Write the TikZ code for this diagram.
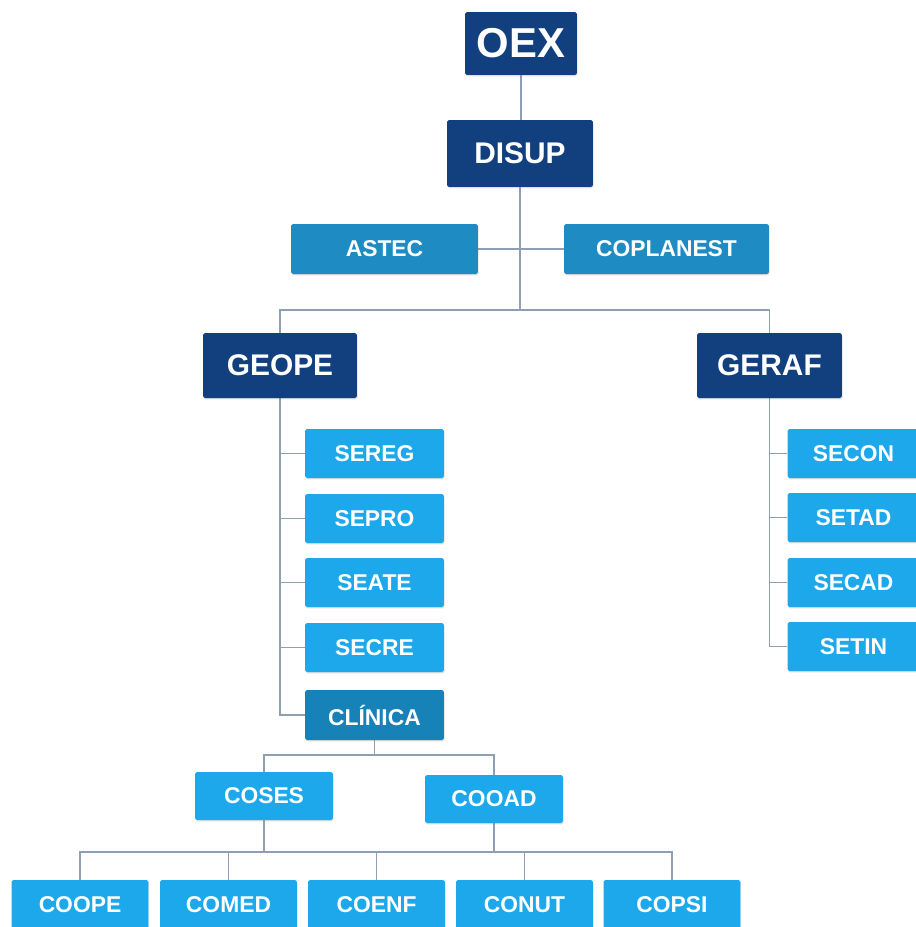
\documentclass[tikz,border=0pt]{standalone}
\usepackage{fontspec}
\setmainfont{Liberation Sans}
\usetikzlibrary{backgrounds,shadows}
\definecolor{navy}{HTML}{123F7E}
\definecolor{midblue}{HTML}{1E8CC2}
\definecolor{clinblue}{HTML}{1782B7}
\definecolor{skyblue}{HTML}{1CA8EA}
\definecolor{linec}{HTML}{8E9FB4}
\tikzset{
  box/.style={rectangle, rounded corners=1pt, text=white, inner sep=0pt, font=\bfseries,
    drop shadow={shadow xshift=0.4pt, shadow yshift=-0.8pt, opacity=0.25}},
  topbox/.style={box, fill=navy, minimum width=22.4mm, minimum height=12.6mm, font=\fontsize{23.8}{26}\selectfont\bfseries},
  mgrbox/.style={box, fill=navy, minimum height=13mm, font=\fontsize{17}{19}\selectfont\bfseries},
  advbox/.style={box, fill=midblue, minimum height=10mm, font=\fontsize{13}{15}\selectfont\bfseries},
  secbox/.style={box, fill=skyblue, minimum width=27.8mm, minimum height=9.8mm, font=\fontsize{13}{15}\selectfont\bfseries},
  clinbox/.style={box, fill=clinblue, minimum width=27.8mm, minimum height=10mm, font=\fontsize{13}{15}\selectfont\bfseries},
  rbox/.style={box, fill=skyblue, minimum width=26.4mm, minimum height=9.8mm, font=\fontsize{13}{15}\selectfont\bfseries},
  cobox/.style={box, fill=skyblue, minimum width=27.6mm, minimum height=9.6mm, font=\fontsize{13}{15}\selectfont\bfseries},
  botbox/.style={box, fill=skyblue, minimum width=27.4mm, minimum height=10mm, font=\fontsize{13}{15}\selectfont\bfseries},
  conn/.style={draw=linec, line width=0.7pt}
}
\begin{document}
\begin{tikzpicture}[x=0.02cm, y=-0.02cm]
\useasboundingbox (0,0) rectangle (916,927);
\clip (0,0) rectangle (916,927);

\node[topbox] (oex) at (521,43.5) {OEX};
\node[mgrbox, minimum width=29.2mm, minimum height=13.4mm] (disup) at (520,153.5) {DISUP};
\node[advbox, minimum width=37.4mm] (astec) at (384.5,249) {ASTEC};
\node[advbox, minimum width=41mm] (coplanest) at (666.5,249) {COPLANEST};
\node[mgrbox, minimum width=30.8mm] (geope) at (280,365.5) {GEOPE};
\node[mgrbox, minimum width=29mm] (geraf) at (769.5,365.5) {GERAF};

\node[secbox] (sereg) at (374.5,453.5) {SEREG};
\node[secbox] (sepro) at (374.5,518.5) {SEPRO};
\node[secbox] (seate) at (374.5,582.5) {SEATE};
\node[secbox] (secre) at (374.5,647.5) {SECRE};
\node[clinbox] (clinica) at (374.5,715) {CLÍNICA};

\node[rbox] (secon) at (853.5,453.5) {SECON};
\node[rbox] (setad) at (853.5,517.5) {SETAD};
\node[rbox] (secad) at (853.5,582.5) {SECAD};
\node[rbox] (setin) at (853.5,646.5) {SETIN};

\node[cobox] (coses) at (264,796) {COSES};
\node[cobox] (cooad) at (494,799) {COOAD};

\node[botbox] (coope) at (80,905) {COOPE};
\node[botbox] (comed) at (228.5,905) {COMED};
\node[botbox] (coenf) at (376.5,905) {COENF};
\node[botbox] (conut) at (524.5,905) {CONUT};
\node[botbox] (copsi) at (672,905) {COPSI};

\coordinate (j1) at (520,310);
\coordinate (j2) at (375,755);
\coordinate (j3) at (376,852);

\begin{pgfonlayer}{background}
\draw[conn] (oex.south) -- (oex.south |- disup.north);
\draw[conn] (disup.south) -- (disup.south |- j1);
\draw[conn] (astec.east) -- (coplanest.west);
\draw[conn] (geope.north) -- (geope.north |- j1) -- (geraf.north |- j1) -- (geraf.north);
\draw[conn] (geope.south) -- (geope.south |- clinica.west) -- (clinica.west);
\foreach \n in {sereg,sepro,seate,secre}
  \draw[conn] (geope.south |- \n.west) -- (\n.west);
\draw[conn] (geraf.south) -- (geraf.south |- setin.west) -- (setin.west);
\foreach \n in {secon,setad,secad}
  \draw[conn] (geraf.south |- \n.west) -- (\n.west);
\draw[conn] (clinica.south) -- (clinica.south |- j2);
\draw[conn] (coses.north) -- (coses.north |- j2) -- (cooad.north |- j2) -- (cooad.north);
\draw[conn] (coses.south) -- (coses.south |- j3);
\draw[conn] (cooad.south) -- (cooad.south |- j3);
\draw[conn] (coope.north) -- (coope.north |- j3) -- (copsi.north |- j3) -- (copsi.north);
\foreach \n in {comed,coenf,conut}
  \draw[conn] (\n.north |- j3) -- (\n.north);
\end{pgfonlayer}
\end{tikzpicture}
\end{document}
